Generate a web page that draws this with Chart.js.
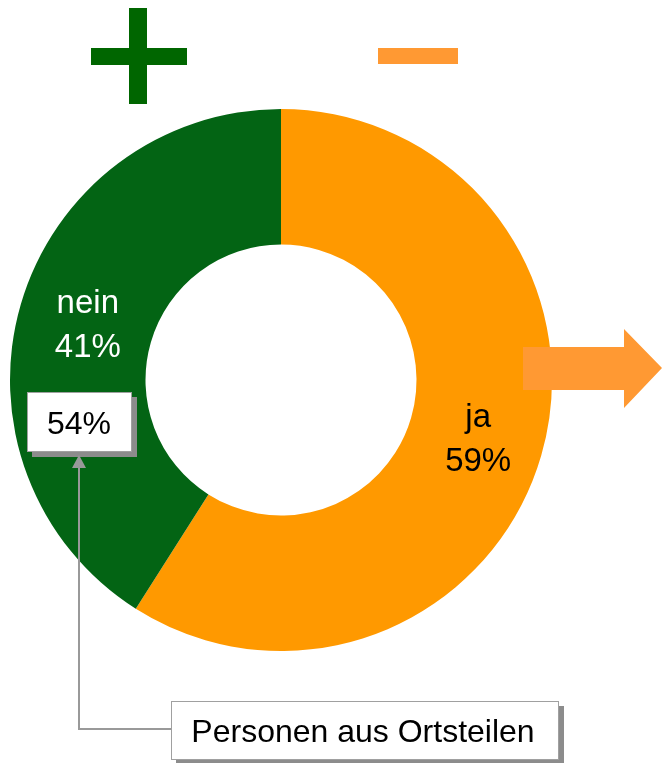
<!DOCTYPE html>
<html>
<head>
<meta charset="utf-8">
<script src="https://cdn.jsdelivr.net/npm/chart.js@4/dist/chart.umd.min.js"></script>
<style>
  html, body { margin: 0; padding: 0; background: #fff; }
  #wrap { width: 662px; height: 763px; position: relative; }
</style>
</head>
<body>
<div id="wrap"><canvas id="chart" width="662" height="763"></canvas></div>
<script>
const categories = ['ja', 'nein'];
const shares = [59, 41];
const sliceColors = ['#ff9900', '#036414'];
const labelColors = ['#000000', '#ffffff'];
const subgroupShare = '54%';
const subgroupLabel = 'Personen aus Ortsteilen';

const FONT = '"Liberation Sans", Arial, sans-serif';

// draws the +, -, arrow, slice labels and callout boxes
const decorPlugin = {
    id: 'decor',
    afterDatasetsDraw(chart) {
        const ctx = chart.ctx;
        const meta = chart.getDatasetMeta(0);
        ctx.save();

        // plus sign
        ctx.fillStyle = '#006600';
        ctx.fillRect(129, 8, 18, 96);
        ctx.fillRect(91, 48, 96, 17);
        // minus sign
        ctx.fillStyle = '#ff9933';
        ctx.fillRect(378, 48, 80, 16);
        // arrow to the right
        ctx.beginPath();
        ctx.moveTo(523, 347);
        ctx.lineTo(624, 347);
        ctx.lineTo(624, 329);
        ctx.lineTo(662, 368);
        ctx.lineTo(624, 408);
        ctx.lineTo(624, 390);
        ctx.lineTo(523, 390);
        ctx.closePath();
        ctx.fill();

        // slice labels
        ctx.font = '33px ' + FONT;
        ctx.textAlign = 'center';
        ctx.textBaseline = 'alphabetic';
        meta.data.forEach((arc, i) => {
            const p = arc.tooltipPosition();
            ctx.fillStyle = labelColors[i];
            ctx.fillText(categories[i], p.x + 2, p.y - 10);
            ctx.fillText(shares[i] + '%', p.x + 2, p.y + 34);
        });

        // 54% box
        ctx.fillStyle = '#8c8c8c';
        ctx.fillRect(32, 397, 105, 60);
        ctx.fillStyle = '#ffffff';
        ctx.fillRect(27, 392, 105, 60);
        ctx.strokeStyle = '#a0a0a0';
        ctx.lineWidth = 1;
        ctx.strokeRect(27.5, 392.5, 104, 59);
        ctx.fillStyle = '#000';
        ctx.font = '32px ' + FONT;
        ctx.fillText(subgroupShare, 79, 434);

        // connector
        ctx.strokeStyle = '#999999';
        ctx.lineWidth = 2;
        ctx.beginPath();
        ctx.moveTo(79, 466);
        ctx.lineTo(79, 729);
        ctx.lineTo(171, 729);
        ctx.stroke();
        ctx.fillStyle = '#999999';
        ctx.beginPath();
        ctx.moveTo(79, 455);
        ctx.lineTo(72, 468);
        ctx.lineTo(86, 468);
        ctx.closePath();
        ctx.fill();

        // Personen aus Ortsteilen box
        ctx.fillStyle = '#8c8c8c';
        ctx.fillRect(176, 706, 388, 59);
        ctx.fillStyle = '#ffffff';
        ctx.fillRect(171, 701, 388, 59);
        ctx.strokeStyle = '#a0a0a0';
        ctx.lineWidth = 1;
        ctx.strokeRect(171.5, 701.5, 387, 58);
        ctx.fillStyle = '#000';
        ctx.font = '32px ' + FONT;
        ctx.fillText(subgroupLabel, 363, 742);

        ctx.restore();
    }
};

new Chart(document.getElementById('chart'), {
    type: 'doughnut',
    data: {
        labels: categories,
        datasets: [{
            data: shares,
            backgroundColor: sliceColors,
            borderWidth: 0
        }]
    },
    options: {
        responsive: false,
        animation: false,
        cutout: '50%',
        layout: { padding: { left: 10, right: 110, top: 109, bottom: 112 } },
        plugins: {
            legend: { display: false },
            tooltip: { enabled: false }
        }
    },
    plugins: [decorPlugin]
});
</script>
</body>
</html>
